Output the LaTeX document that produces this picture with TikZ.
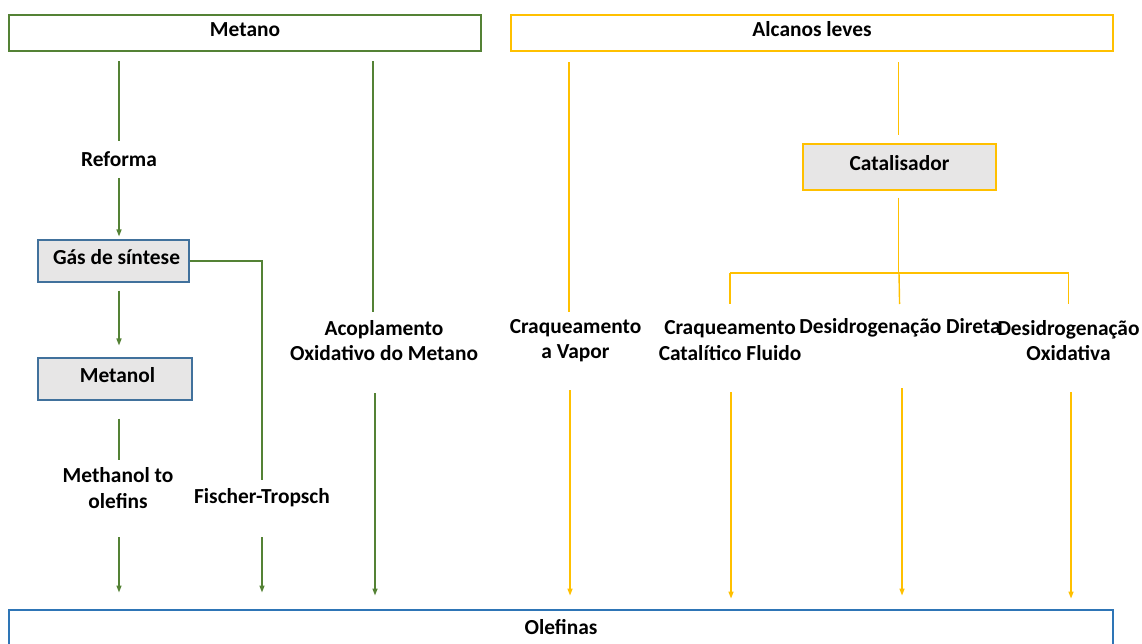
\documentclass[tikz,border=0pt]{standalone}
\usepackage{fontspec}
\setmainfont{Carlito}
\usetikzlibrary{arrows.meta}
\definecolor{gr}{RGB}{84,130,53}
\definecolor{yl}{RGB}{255,192,0}
\definecolor{bl}{RGB}{46,117,182}
\definecolor{boxblue}{RGB}{65,113,156}
\definecolor{fillgray}{RGB}{231,230,230}
\newcommand{\rb}[1]{\raisebox{3.5pt}[\height][\depth]{#1}}
\begin{document}
\begin{tikzpicture}[x=1pt,y=-1pt,
  every node/.style={font=\fontsize{21.4}{25.5}\selectfont\bfseries, align=center, inner sep=0pt, text=black},
  topbox/.style={draw, line width=2.9pt, minimum height=36pt},
  procbox/.style={draw, fill=fillgray, line width=1.1pt},
  gline/.style={gr, line width=1.4pt},
  garr/.style={gline, -{Triangle[length=7pt,width=5pt]}},
  yline/.style={yl, line width=1.4pt},
  yarr/.style={yline, -{Triangle[length=7pt,width=5pt]}}
]
\useasboundingbox (0,0) rectangle (1142,644);
% main boxes
\node[topbox, draw=gr, minimum width=472pt] (metano) at (245,33) {\rb{Metano}};
\node[topbox, draw=yl, minimum width=602pt] (alcanos) at (812,33) {\rb{Alcanos leves}};
\node[topbox, draw=bl, minimum width=1104pt, minimum height=38pt] (olefinas) at (561,629) {\raisebox{1.5pt}[\height][\depth]{Olefinas}};
% process boxes
\node[procbox, draw=boxblue, minimum width=151pt, minimum height=42pt] (gas) at (113.5,261) {\rb{\hspace*{6pt}Gás de síntese}};
\node[procbox, draw=boxblue, minimum width=154pt, minimum height=42pt] (metanol) at (115,379) {\rb{\hspace*{5pt}Metanol}};
\node[procbox, draw=yl, line width=1.4pt, minimum width=193pt, minimum height=46pt] (cat) at (899.5,167) {\rb{Catalisador}};
% labels
\node (reforma) at (119,159) {Reforma};
\node (mto) at (118,488) {Methanol to\\olefins};
\node (ft) at (262,498) {Fischer-Tropsch};
\node (aom) at (384,340.5) {Acoplamento\\Oxidativo do Metano};
\node (cv) at (575.5,340.5) {Craqueamento\\a Vapor};
\node (ccf) at (730,340.5) {Craqueamento\\Catalítico Fluido};
\node (dd) at (900,328) {Desidrogenação Direta};
\node (dox) at (1068.5,340.5) {Desidrogenação\\Oxidativa};
% helper coordinates for line columns
\coordinate (mcol) at (119,0);
\coordinate (aomcol) at (373,0);
\coordinate (aomcolb) at (375,0);
\coordinate (cvcol) at (569,0);
\coordinate (cvcolb) at (570,0);
\coordinate (catcol) at (898.5,0);
\coordinate (ccfcolb) at (731,0);
\coordinate (ddcolb) at (902,0);
\coordinate (doxcolb) at (1071,0);
\coordinate (bj) at (899,273);
% green connectors
\draw[gline, shorten <=9pt, shorten >=18pt] (metano.south -| reforma.center) -- (reforma.center);
\draw[garr, shorten <=19pt, shorten >=3pt] (reforma.center) -- (gas.north -| reforma.center);
\draw[garr, shorten <=8pt, shorten >=12pt] (gas.south -| mcol) -- (metanol.north -| mcol);
\draw[gline, shorten <=18pt, shorten >=28pt] (metanol.south -| mcol) -- (mto.center -| mcol);
\draw[garr, shorten <=49pt, shorten >=16pt] (mto.center -| mcol) -- (olefinas.north -| mcol);
\draw[gline, shorten >=18pt] (gas.east) -- (gas.east -| ft.center) -- (ft.center);
\draw[garr, shorten <=39pt, shorten >=16pt] (ft.center) -- (olefinas.north -| ft.center);
\draw[gline, shorten <=9pt, shorten >=28.5pt] (metano.south -| aomcol) -- (aom.center -| aomcol);
\draw[garr, shorten <=52.5pt, shorten >=13pt] (aom.center -| aomcolb) -- (olefinas.north -| aomcolb);
% yellow connectors
\draw[yline, shorten <=10pt, shorten >=28.5pt] (alcanos.south -| cvcol) -- (cv.center -| cvcol);
\draw[yarr, shorten <=49.5pt, shorten >=13pt] (cv.center -| cvcolb) -- (olefinas.north -| cvcolb);
\draw[yline, shorten <=10pt, shorten >=8pt] (alcanos.south -| catcol) -- (cat.north -| catcol);
\draw[yline, shorten <=7pt] (cat.south -| catcol) -- (bj -| catcol);
\draw[yline] (ccf.center |- bj) -- (dox.center |- bj);
\draw[yline, shorten >=36.5pt] (ccf.center |- bj) -- (ccf.center);
\draw[yline, shorten >=24pt] (bj) -- (dd.center);
\draw[yline, shorten >=36.5pt] (dox.center |- bj) -- (dox.center);
\draw[yarr, shorten <=51.5pt, shorten >=10pt] (ccf.center -| ccfcolb) -- (olefinas.north -| ccfcolb);
\draw[yarr, shorten <=60pt, shorten >=13pt] (dd.center -| ddcolb) -- (olefinas.north -| ddcolb);
\draw[yarr, shorten <=51.5pt, shorten >=10pt] (dox.center -| doxcolb) -- (olefinas.north -| doxcolb);
\end{tikzpicture}
\end{document}
